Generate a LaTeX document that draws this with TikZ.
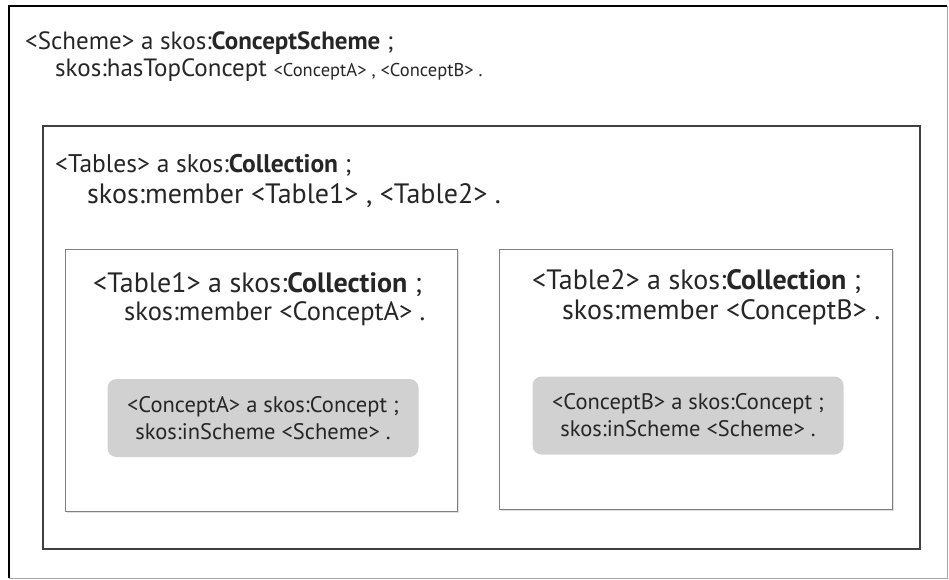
\documentclass[tikz,border=0pt]{standalone}
\usepackage{fontspec}
\setmainfont{PT Sans}
\usetikzlibrary{shadows}
\begin{document}
\begin{tikzpicture}
[x=1pt,y=-1pt,
  boxDecorate/.style={anchor=north west,inner sep=0pt},%
  schemeDecorate/.style={boxDecorate},%
  tablesDecorate/.style={boxDecorate,draw=black!75,line width=1.6pt,fill=white,
    drop shadow={shadow xshift=1.2pt,shadow yshift=-1.2pt,opacity=.35}},%
  tableDecorate/.style={boxDecorate,draw=black!50,line width=1pt,fill=white,
    drop shadow={shadow xshift=1pt,shadow yshift=-1pt,opacity=.25}},%
  conceptDecorate/.style={fill=black!18,rounded corners=9pt,align=center,
    minimum width=311pt,minimum height=78pt,inner sep=0pt,text=black!85,
    font=\fontsize{22.5}{27}\selectfont},%
  lineDecorate/.style={anchor=west,inner sep=0pt,text=black!85}]
\useasboundingbox (0,0) rectangle (949,579);
%% boxes
\node (scheme) at (9,6) [schemeDecorate,minimum width=938pt,minimum height=572pt] {};
\draw[black,line width=1.8pt] (scheme.south west) |- (scheme.north east);
\draw[black!35,line width=1pt] (scheme.north east) |- (scheme.south west);
\node (tables) at (42,125) [tablesDecorate,minimum width=877pt,minimum height=423pt] {};
\node (table1) at (65,249) [tableDecorate,minimum width=392pt,minimum height=262pt] {};
\node (table2) at (499,249) [tableDecorate,minimum width=393pt,minimum height=260pt] {};
%% concepts
\node (conceptA) at (263,418) [conceptDecorate]
  {<ConceptA> a skos:Concept ;\\ skos:inScheme <Scheme> .};
\node (conceptB) at (688,415.5) [conceptDecorate]
  {<ConceptB> a skos:Concept ;\\ skos:inScheme <Scheme> .};
%% statements
\foreach \nodename/\x/\y/\size/\txt in {
  schemeHead/25/43/25/{<Scheme> a skos:\textbf{ConceptScheme} ;},
  schemeTop/55/70/25/{skos:hasTopConcept \fontsize{18.5}{18.5}\selectfont<ConceptA> , <ConceptB> .},
  tablesHead/55/165/25.5/{<Tables> a skos:\textbf{Collection} ;},
  tablesMember/87/196/28/{skos:member <Table1> , <Table2> .},
  tableOneHead/93/285/28/{<Table1> a skos:\textbf{Collection} ;},
  tableOneMember/124/314/26.5/{skos:member <ConceptA> .},
  tableTwoHead/532/282/28/{<Table2> a skos:\textbf{Collection} ;},
  tableTwoMember/562/312/28/{skos:member <ConceptB> .}}
{
  \node (\nodename) at (\x,\y) [lineDecorate,font=\fontsize{\size}{\size}\selectfont] {\txt};
}
\end{tikzpicture}
\end{document}
